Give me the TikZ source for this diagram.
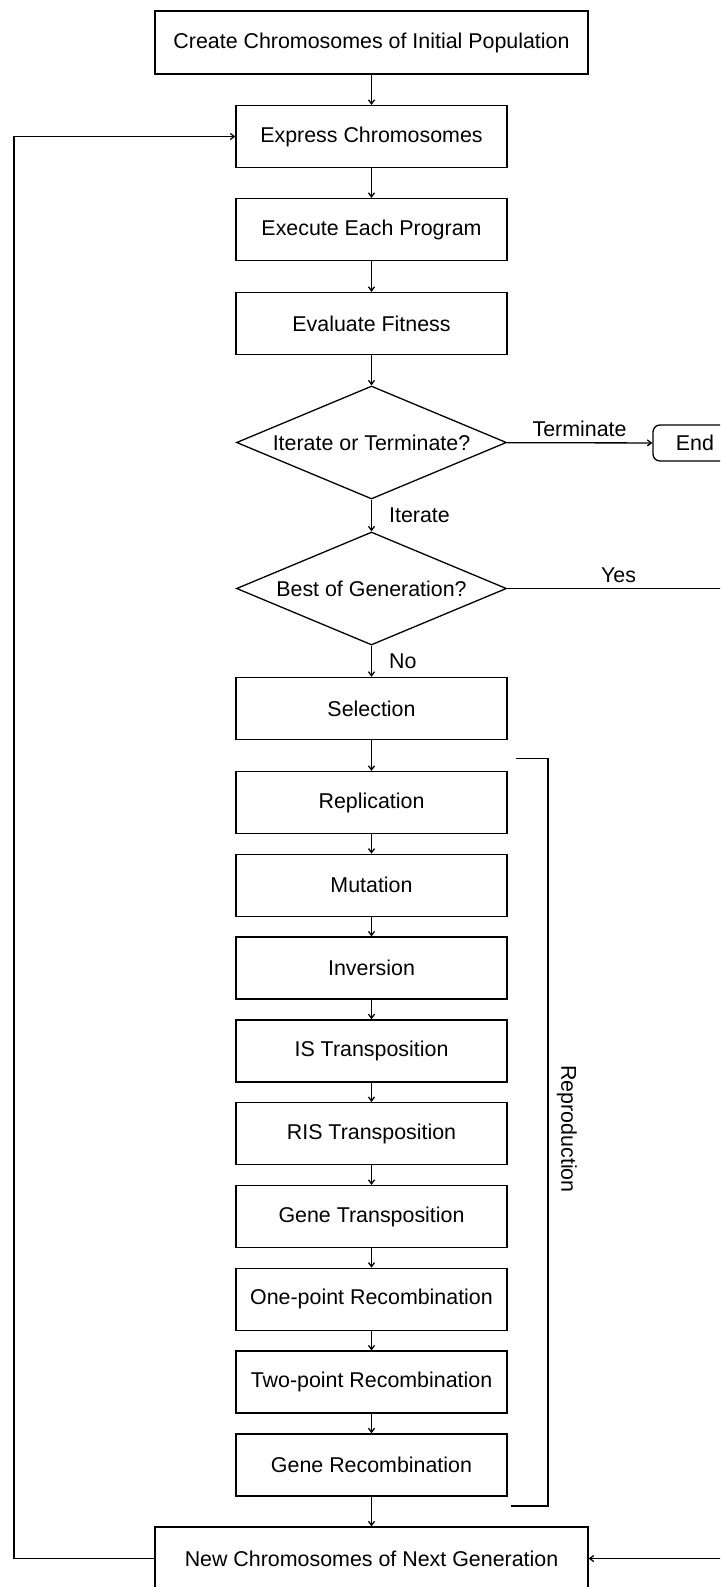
\documentclass[tikz,border=0pt]{standalone}
\usepackage{fontspec}
\setmainfont{Liberation Sans}
\usetikzlibrary{shapes.geometric,arrows.meta}

\begin{document}
\begin{tikzpicture}[x=1pt,y=-1pt,line width=1.3pt,>={Straight Barb[length=4pt,width=6pt]}]
\tikzstyle{every node}=[font=\fontsize{21.4}{25}\selectfont]
\tikzstyle{stage}=[draw,rectangle,minimum width=271pt,minimum height=62pt,inner sep=0pt]
\tikzstyle{wide stage}=[draw,rectangle,minimum width=433pt,minimum height=63pt,inner sep=0pt]
\tikzstyle{decision}=[draw,diamond,shape aspect=2.4,minimum width=270pt,minimum height=113pt,inner sep=0pt]
\tikzstyle{flow}=[->]

\path[use as bounding box,clip] (0,0) rectangle (720,1587);

%main column
\node[wide stage] (init) at (371.5,42.5) {Create Chromosomes of Initial Population};
\node[stage] (express) at (371.5,136.5) {Express Chromosomes};
\node[stage] (execute) at (371.5,229.5) {Execute Each Program};
\node[stage] (fitness) at (371.5,323.5) {Evaluate Fitness};
\node[decision] (iterate) at (371.5,442.5) {Iterate or Terminate?};
\node[draw,rectangle,rounded corners=7pt,minimum width=84pt,minimum height=36pt,inner sep=0pt] (end) at (695,443) {End};
\node[decision] (best) at (371.5,588.5) {Best of Generation?};
\node[stage] (select) at (371.5,708.4) {Selection};

%reproduction steps
\node[stage] (repl) at (371.5,802.5) {Replication};
\node[stage] (mut) at (371.5,885.3) {Mutation};
\node[stage] (inv) at (371.5,968.1) {Inversion};
\node[stage] (is) at (371.5,1050.9) {IS Transposition};
\node[stage] (ris) at (371.5,1133.7) {RIS Transposition};
\node[stage] (genet) at (371.5,1216.5) {Gene Transposition};
\node[stage] (onept) at (371.5,1299.3) {One-point Recombination};
\node[stage] (twopt) at (371.5,1382.1) {Two-point Recombination};
\node[stage] (gener) at (371.5,1464.9) {Gene Recombination};
\node[wide stage] (new) at (371.5,1558.5) {New Chromosomes of Next Generation};

%free ends of the long connectors
\coordinate (loopx) at (14,1558.5);
\coordinate (yesx) at (730,588.5);
\coordinate (brtl) at (515.5,758.5);
\coordinate (brtr) at (548,758.5);
\coordinate (brbr) at (548,1506);
\coordinate (brbl) at (511,1506);

%straight flow
\draw[flow] (init) -- (express);
\draw[flow] (express) -- (execute);
\draw[flow] (execute) -- (fitness);
\draw[flow] (fitness) -- (iterate);
\draw[flow] (iterate) -- node[above,inner sep=5pt]{Terminate} (end);
\draw[flow] (iterate) -- node[anchor=west,xshift=17pt,inner sep=0pt]{Iterate} (best);
\draw[flow] (best) -- node[anchor=west,xshift=17pt,inner sep=0pt]{No} (select);
\draw[flow] (select) -- (repl);
\draw[flow] (repl) -- (mut);
\draw[flow] (mut) -- (inv);
\draw[flow] (inv) -- (is);
\draw[flow] (is) -- (ris);
\draw[flow] (ris) -- (genet);
\draw[flow] (genet) -- (onept);
\draw[flow] (onept) -- (twopt);
\draw[flow] (twopt) -- (gener);
\draw[flow] (gener) -- (new);

%loops back
\draw[flow] (new.west) -- (loopx) |- (express.west);
\draw[flow] (best.east) -- node[above,inner sep=5pt]{Yes} (yesx) |- (new.east);

%reproduction bracket
\draw (brtl) -- (brtr) -- (brbr) -- (brbl);
\node[rotate=-90] (repro) at (567,1129) {Reproduction};
\end{tikzpicture}
\end{document}
